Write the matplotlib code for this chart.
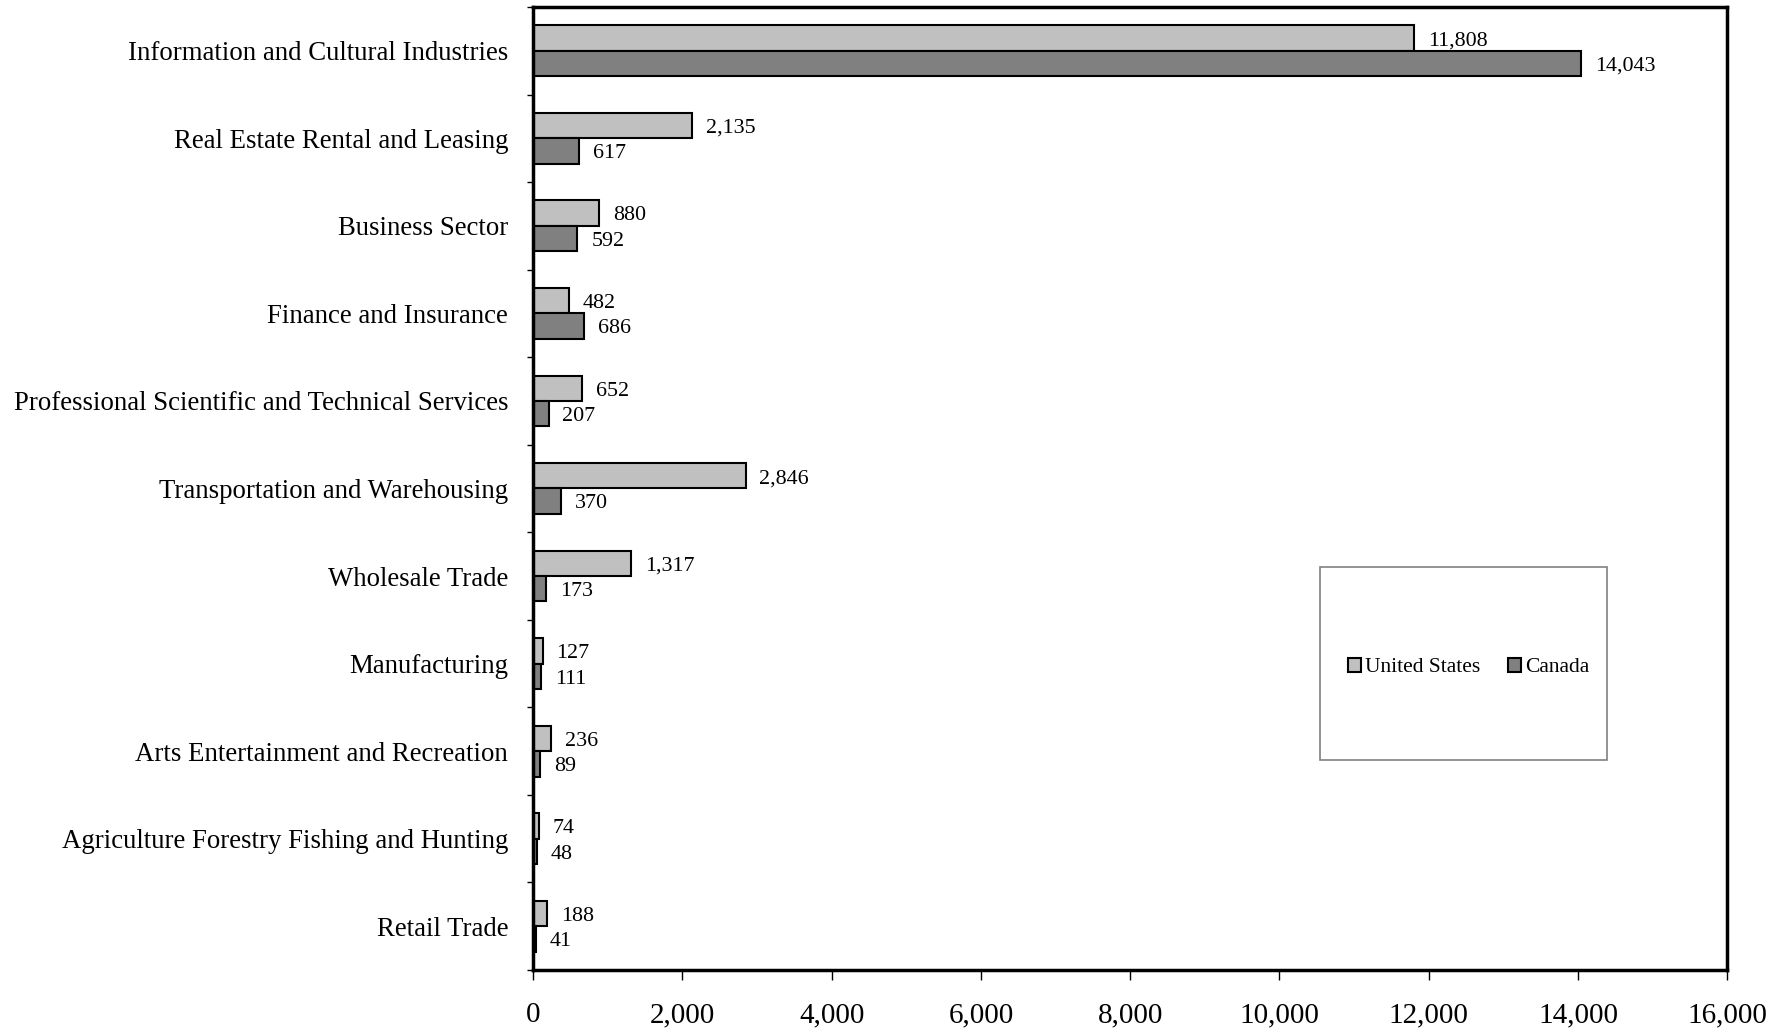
import numpy as np
import matplotlib.pyplot as plt
from matplotlib.patches import Rectangle

plt.rcParams['font.family'] = ['Liberation Serif', 'DejaVu Serif']

# Data
industries = ['Information and Cultural Industries', 'Real Estate Rental and Leasing',
              'Business Sector', 'Finance and Insurance',
              'Professional Scientific and Technical Services',
              'Transportation and Warehousing', 'Wholesale Trade', 'Manufacturing',
              'Arts Entertainment and Recreation',
              'Agriculture Forestry Fishing and Hunting', 'Retail Trade']
us_values = [11808, 2135, 880, 482, 652, 2846, 1317, 127, 236, 74, 188]
canada_values = [14043, 617, 592, 686, 207, 370, 173, 111, 89, 48, 41]
xticks = [0, 2000, 4000, 6000, 8000, 10000, 12000, 14000, 16000]

fig = plt.figure(figsize=(17.89, 10.32), dpi=100)
ax = fig.add_axes([0.298, 0.0601, 0.6675, 0.9331])

y = np.arange(len(industries))
h = 0.29
bars_us = ax.barh(y - h / 2, us_values, height=h, color='#C0C0C0',
                  edgecolor='black', linewidth=1.5, label='United States')
bars_ca = ax.barh(y + h / 2, canada_values, height=h, color='#808080',
                  edgecolor='black', linewidth=1.5, label='Canada')

# value labels to the right of each bar
for bars, vals in [(bars_us, us_values), (bars_ca, canada_values)]:
    for b, v in zip(bars, vals):
        ax.annotate(f'{v:,}', xy=(b.get_width(), b.get_y() + b.get_height() / 2),
                    xytext=(10, -2), textcoords='offset points',
                    va='center', ha='left', fontsize=15.8)

ax.set_xlim(0, 16000)
ax.set_ylim(len(industries) - 0.5, -0.5)
ax.set_xticks(xticks)
ax.set_xticklabels([f'{t:,}' for t in xticks], fontsize=21)
ax.tick_params(axis='x', direction='out', length=7, width=1, pad=16)

ax.set_yticks(y)
ax.set_yticklabels(industries, fontsize=19.3)
ax.tick_params(axis='y', which='major', length=0, pad=18)
ax.set_yticks(np.arange(len(industries) + 1) - 0.5, minor=True)
ax.tick_params(axis='y', which='minor', direction='out', length=4.5, width=1)

for s in ax.spines.values():
    s.set_linewidth(2.5)
    s.set_color('black')

# legend box
ax.add_patch(Rectangle((0.659, 0.218), 0.2405, 0.2005, transform=ax.transAxes,
                       facecolor='white', edgecolor='#808080', linewidth=1.2, zorder=3))
ax.legend(loc='center', bbox_to_anchor=(0.7835, 0.314), bbox_transform=ax.transAxes,
          ncol=2, frameon=False, fontsize=15.5, handlelength=0.6, handleheight=0.6,
          handletextpad=0.2, columnspacing=1.3)

fig.savefig('out.png', dpi=100)
